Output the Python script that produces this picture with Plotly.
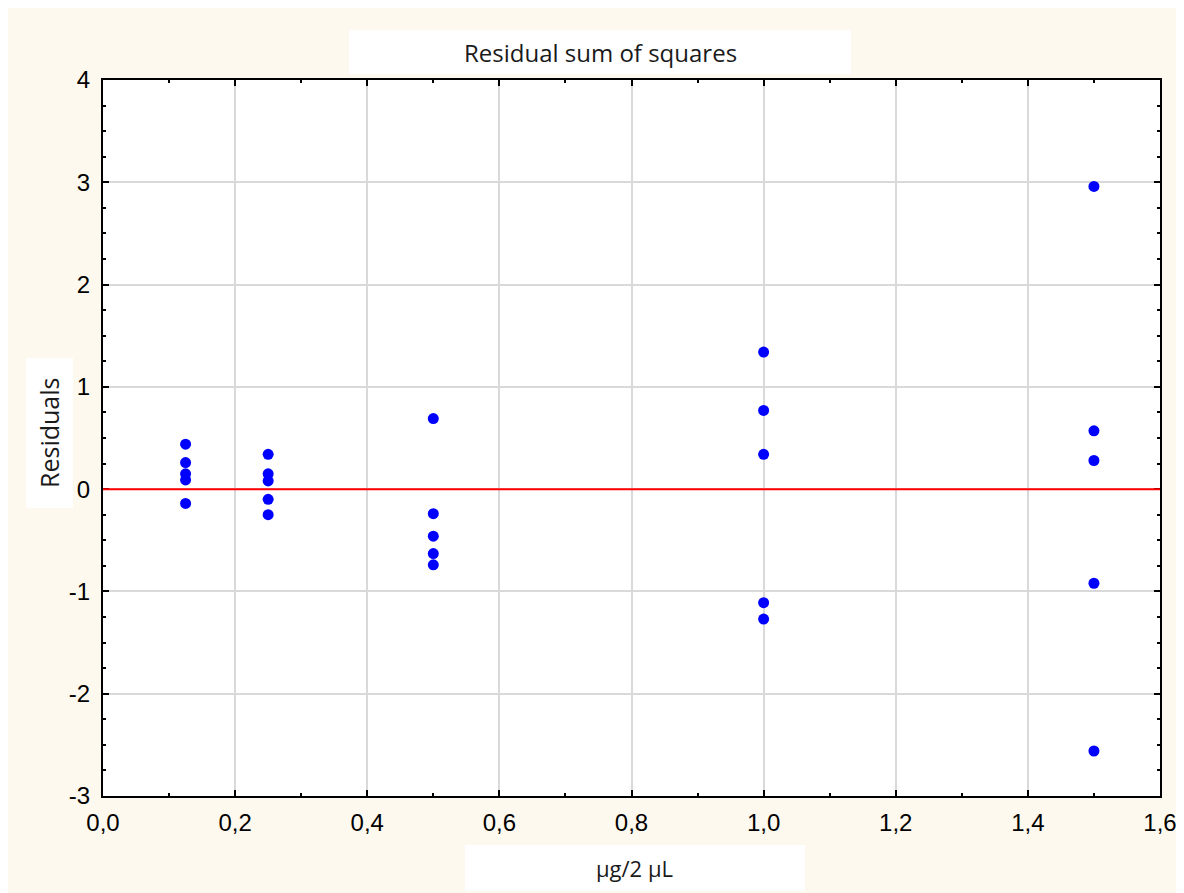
import plotly.graph_objects as go

# Data
x_conc = [0.125]*5 + [0.25]*5 + [0.5]*5 + [1.0]*5 + [1.5]*5
residuals = [
    0.44, 0.26, 0.15, 0.09, -0.14,
    0.34, 0.15, 0.08, -0.10, -0.25,
    0.69, -0.24, -0.46, -0.63, -0.74,
    1.34, 0.77, 0.34, -1.11, -1.27,
    2.96, 0.57, 0.28, -0.92, -2.56,
]
x_ticks = [0.0, 0.2, 0.4, 0.6, 0.8, 1.0, 1.2, 1.4, 1.6]
x_ticktext = ["0,0", "0,2", "0,4", "0,6", "0,8", "1,0", "1,2", "1,4", "1,6"]
y_ticks = [-3, -2, -1, 0, 1, 2, 3, 4]
y_ticktext = ["-3", "-2", "-1", "0", "1", "2", "3", "4"]
title_text = "Residual sum of squares"
x_title = "µg/2 µL"
y_title = "Residuals"

# page is offset by the 8px body margin
OFF = 8
W, H = 1184 - OFF, 893 - OFF
# plot area in reference (page) pixels
L, R, T, B = 103, 1160, 80, 796
pw, ph = R - L, B - T

def px(x):
    return (x - L) / pw

def py(y):
    return (B - y) / ph

CREAM = "#fdf9ee"

fig = go.Figure()
fig.add_trace(go.Scatter(
    x=x_conc, y=residuals, mode="markers",
    marker=dict(color="#0000ff", size=11, line=dict(width=0)),
    showlegend=False, cliponaxis=False,
))
fig.add_hline(y=0, line=dict(color="#ff0000", width=2), layer="above")

axis_common = dict(
    showline=True, linecolor="black", linewidth=2, mirror="allticks",
    ticks="inside", ticklen=6, tickwidth=2, tickcolor="black",
    showgrid=True, gridcolor="#d9d9d9", gridwidth=2, zeroline=False,
    tickfont=dict(family="Liberation Sans, Arial", size=24, color="black"),
    tickmode="array",
)

fig.update_xaxes(
    range=[0, 1.6], tickvals=x_ticks, ticktext=x_ticktext,
    minor=dict(dtick=0.1, tick0=0, ticks="inside", ticklen=3, tickcolor="black", tickwidth=2, showgrid=False),
    ticklabelstandoff=4,
    **axis_common,
)
fig.update_yaxes(
    range=[-3, 4], tickvals=y_ticks, ticktext=y_ticktext,
    minor=dict(dtick=0.25, tick0=0, ticks="inside", ticklen=3, tickcolor="black", tickwidth=2, showgrid=False),
    ticklabelstandoff=6,
    **axis_common,
)

shapes = [
    # white strip above the cream panel
    dict(type="rect", xref="paper", yref="paper", x0=px(-50), x1=px(1300), y0=py(14), y1=py(-50),
         fillcolor="white", line=dict(width=0), layer="below"),
    # title box
    dict(type="rect", xref="paper", yref="paper", x0=px(349), x1=px(851), y0=py(74), y1=py(30),
         fillcolor="white", line=dict(width=0), layer="below"),
    # y label box
    dict(type="rect", xref="paper", yref="paper", x0=px(26), x1=px(73), y0=py(508), y1=py(358),
         fillcolor="white", line=dict(width=0), layer="below"),
    # x label box
    dict(type="rect", xref="paper", yref="paper", x0=px(465), x1=px(805), y0=py(891), y1=py(845),
         fillcolor="white", line=dict(width=0), layer="below"),
]

annotations = [
    dict(text=title_text, xref="paper", yref="paper", x=px(600), y=py(52),
         showarrow=False, xanchor="center", yanchor="middle",
         font=dict(family="Open Sans", size=24, color="#1a1a1a")),
    dict(text=y_title, xref="paper", yref="paper", x=px(49), y=py(433),
         showarrow=False, xanchor="center", yanchor="middle", textangle=-90,
         font=dict(family="Open Sans", size=25, color="#1a1a1a")),
    dict(text=x_title, xref="paper", yref="paper", x=px(634), y=py(868),
         showarrow=False, xanchor="center", yanchor="middle",
         font=dict(family="Open Sans", size=22, color="#1a1a1a")),
]

fig.update_layout(
    width=W, height=H,
    margin=dict(l=L - OFF, r=W - (R - OFF), t=T - OFF, b=H - (B - OFF), autoexpand=False),
    paper_bgcolor=CREAM, plot_bgcolor="white",
    shapes=shapes, annotations=annotations,
    showlegend=False,
)

fig.write_html("out.html")
